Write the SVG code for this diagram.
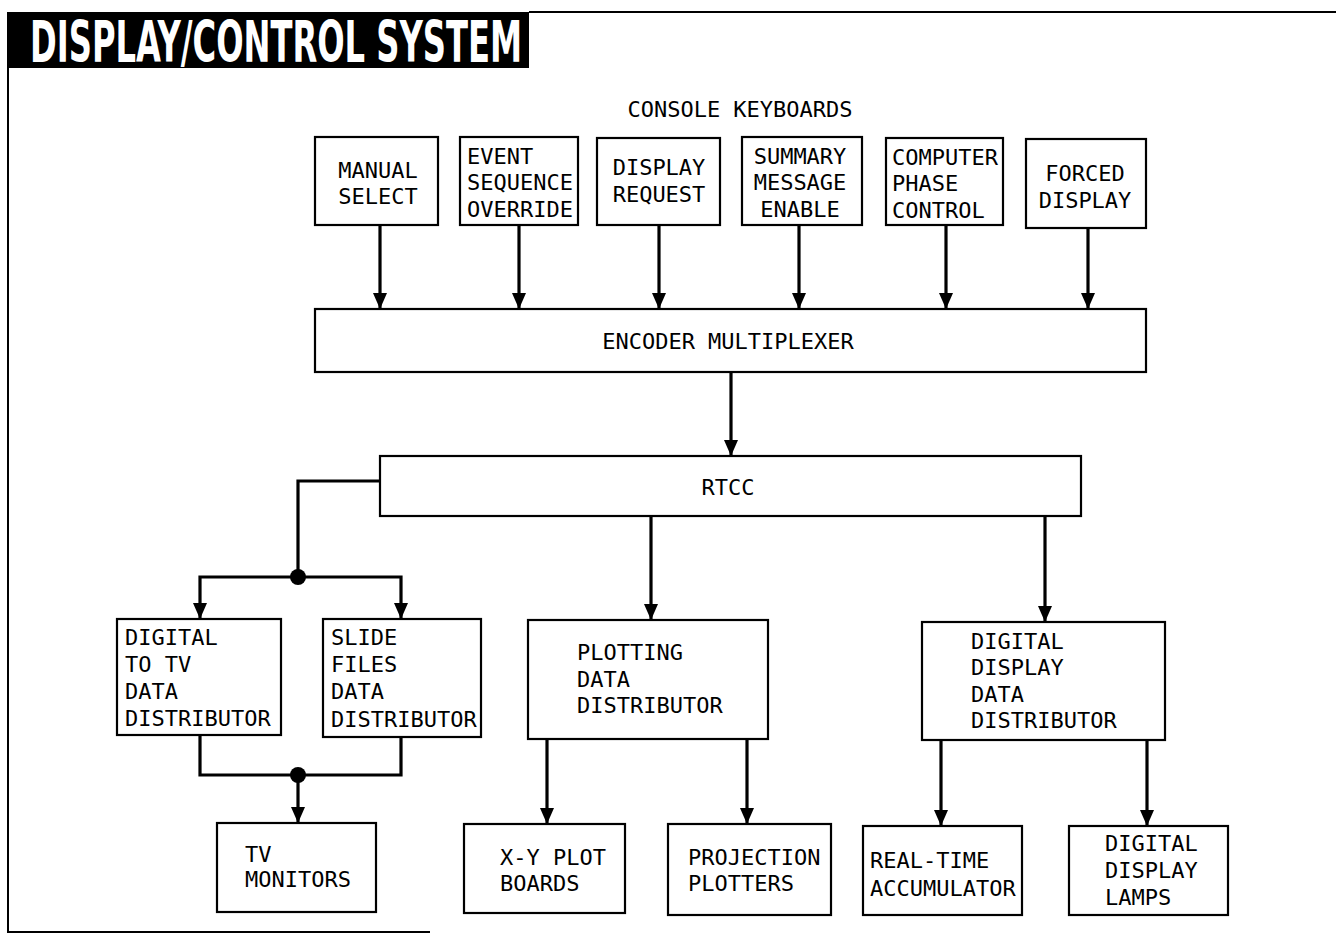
<svg xmlns="http://www.w3.org/2000/svg" width="1336" height="935" viewBox="0 0 1336 935">
<style>
.box{fill:#fff;stroke:#000;stroke-width:2.2}
.t{font-family:"DejaVu Sans Mono","Liberation Mono",monospace;font-size:22px;fill:#000}
.c{text-anchor:middle}
.w{fill:none;stroke:#000;stroke-width:3.2}
.frame{fill:none;stroke:#000;stroke-width:2}
</style>
<defs>
<marker id="ah" viewBox="0 0 16 14" refX="16" refY="7" markerWidth="16" markerHeight="14" markerUnits="userSpaceOnUse" orient="auto">
<path d="M0,0 L16,7 L0,14 z" fill="#000"/>
</marker>
</defs>
<rect width="1336" height="935" fill="#fff"/>
<g id="frame">
<rect x="7" y="12" width="522" height="56" fill="#000"/>
<text x="30" y="62" font-family="DejaVu Sans Condensed,DejaVu Sans,sans-serif" font-weight="bold" font-size="57" fill="#fff" textLength="492" lengthAdjust="spacingAndGlyphs">DISPLAY/CONTROL  SYSTEM</text>
<path class="frame" d="M529,12 L1336,12"/>
<path class="frame" d="M8,68 L8,932 L430,932"/>
<text class="t c" x="740" y="117">CONSOLE KEYBOARDS</text>
</g>
<g id="connectors">
<path class="w" d="M380,225 L380,309" marker-end="url(#ah)"/>
<path class="w" d="M519,225 L519,309" marker-end="url(#ah)"/>
<path class="w" d="M659,225 L659,309" marker-end="url(#ah)"/>
<path class="w" d="M799,225 L799,309" marker-end="url(#ah)"/>
<path class="w" d="M946,225 L946,309" marker-end="url(#ah)"/>
<path class="w" d="M1088,228 L1088,309" marker-end="url(#ah)"/>
<path class="w" d="M731,372 L731,456" marker-end="url(#ah)"/>
<path class="w" d="M380,481 L298,481 L298,577"/>
<path class="w" d="M298,577 L200,577 L200,619" marker-end="url(#ah)"/>
<path class="w" d="M298,577 L401,577 L401,619" marker-end="url(#ah)"/>
<circle cx="298" cy="577" r="8" fill="#000"/>
<path class="w" d="M200,735 L200,775 L401,775 L401,737"/>
<path class="w" d="M298,775 L298,823" marker-end="url(#ah)"/>
<circle cx="298" cy="775" r="8" fill="#000"/>
<path class="w" d="M651,516 L651,620" marker-end="url(#ah)"/>
<path class="w" d="M547,739 L547,824" marker-end="url(#ah)"/>
<path class="w" d="M747,739 L747,824" marker-end="url(#ah)"/>
<path class="w" d="M1045,516 L1045,622" marker-end="url(#ah)"/>
<path class="w" d="M941,740 L941,826" marker-end="url(#ah)"/>
<path class="w" d="M1147,740 L1147,826" marker-end="url(#ah)"/>
</g>
<g id="manual-select">
<rect class="box" x="315" y="137" width="123" height="88"/>
<text class="t c" x="378" y="178">MANUAL</text>
<text class="t c" x="378" y="204">SELECT</text>
</g>
<g id="event-sequence-override">
<rect class="box" x="460" y="137" width="118" height="88"/>
<text class="t" x="467" y="164">EVENT</text>
<text class="t" x="467" y="190">SEQUENCE</text>
<text class="t" x="467" y="217">OVERRIDE</text>
</g>
<g id="display-request">
<rect class="box" x="597" y="138" width="123" height="87"/>
<text class="t c" x="659" y="175">DISPLAY</text>
<text class="t c" x="659" y="202">REQUEST</text>
</g>
<g id="summary-message-enable">
<rect class="box" x="742" y="137" width="120" height="88"/>
<text class="t c" x="800" y="164">SUMMARY</text>
<text class="t c" x="800" y="190">MESSAGE</text>
<text class="t c" x="800" y="217">ENABLE</text>
</g>
<g id="computer-phase-control">
<rect class="box" x="886" y="138" width="117" height="87"/>
<text class="t" x="892" y="165">COMPUTER</text>
<text class="t" x="892" y="191">PHASE</text>
<text class="t" x="892" y="218">CONTROL</text>
</g>
<g id="forced-display">
<rect class="box" x="1026" y="139" width="120" height="89"/>
<text class="t c" x="1085" y="181">FORCED</text>
<text class="t c" x="1085" y="208">DISPLAY</text>
</g>
<g id="encoder-multiplexer">
<rect class="box" x="315" y="309" width="831" height="63"/>
<text class="t c" x="728" y="349">ENCODER MULTIPLEXER</text>
</g>
<g id="rtcc">
<rect class="box" x="380" y="456" width="701" height="60"/>
<text class="t c" x="728" y="495">RTCC</text>
</g>
<g id="digital-to-tv">
<rect class="box" x="117" y="619" width="164" height="116"/>
<text class="t" x="125" y="645">DIGITAL</text>
<text class="t" x="125" y="672">TO TV</text>
<text class="t" x="125" y="699">DATA</text>
<text class="t" x="125" y="726">DISTRIBUTOR</text>
</g>
<g id="slide-files">
<rect class="box" x="323" y="619" width="158" height="118"/>
<text class="t" x="331" y="645">SLIDE</text>
<text class="t" x="331" y="672">FILES</text>
<text class="t" x="331" y="699">DATA</text>
<text class="t" x="331" y="727">DISTRIBUTOR</text>
</g>
<g id="tv-monitors">
<rect class="box" x="217" y="823" width="159" height="89"/>
<text class="t" x="245" y="862">TV</text>
<text class="t" x="245" y="887">MONITORS</text>
</g>
<g id="plotting-data-distributor">
<rect class="box" x="528" y="620" width="240" height="119"/>
<text class="t" x="577" y="660">PLOTTING</text>
<text class="t" x="577" y="687">DATA</text>
<text class="t" x="577" y="713">DISTRIBUTOR</text>
</g>
<g id="xy-plot-boards">
<rect class="box" x="464" y="824" width="161" height="89"/>
<text class="t" x="500" y="865">X-Y PLOT</text>
<text class="t" x="500" y="891">BOARDS</text>
</g>
<g id="projection-plotters">
<rect class="box" x="668" y="824" width="163" height="91"/>
<text class="t" x="688" y="865">PROJECTION</text>
<text class="t" x="688" y="891">PLOTTERS</text>
</g>
<g id="digital-display-data-distributor">
<rect class="box" x="922" y="622" width="243" height="118"/>
<text class="t" x="971" y="649">DIGITAL</text>
<text class="t" x="971" y="675">DISPLAY</text>
<text class="t" x="971" y="702">DATA</text>
<text class="t" x="971" y="728">DISTRIBUTOR</text>
</g>
<g id="real-time-accumulator">
<rect class="box" x="863" y="826" width="159" height="89"/>
<text class="t" x="870" y="868">REAL-TIME</text>
<text class="t" x="870" y="896">ACCUMULATOR</text>
</g>
<g id="digital-display-lamps">
<rect class="box" x="1069" y="826" width="159" height="89"/>
<text class="t" x="1105" y="851">DIGITAL</text>
<text class="t" x="1105" y="878">DISPLAY</text>
<text class="t" x="1105" y="905">LAMPS</text>
</g>
</svg>
